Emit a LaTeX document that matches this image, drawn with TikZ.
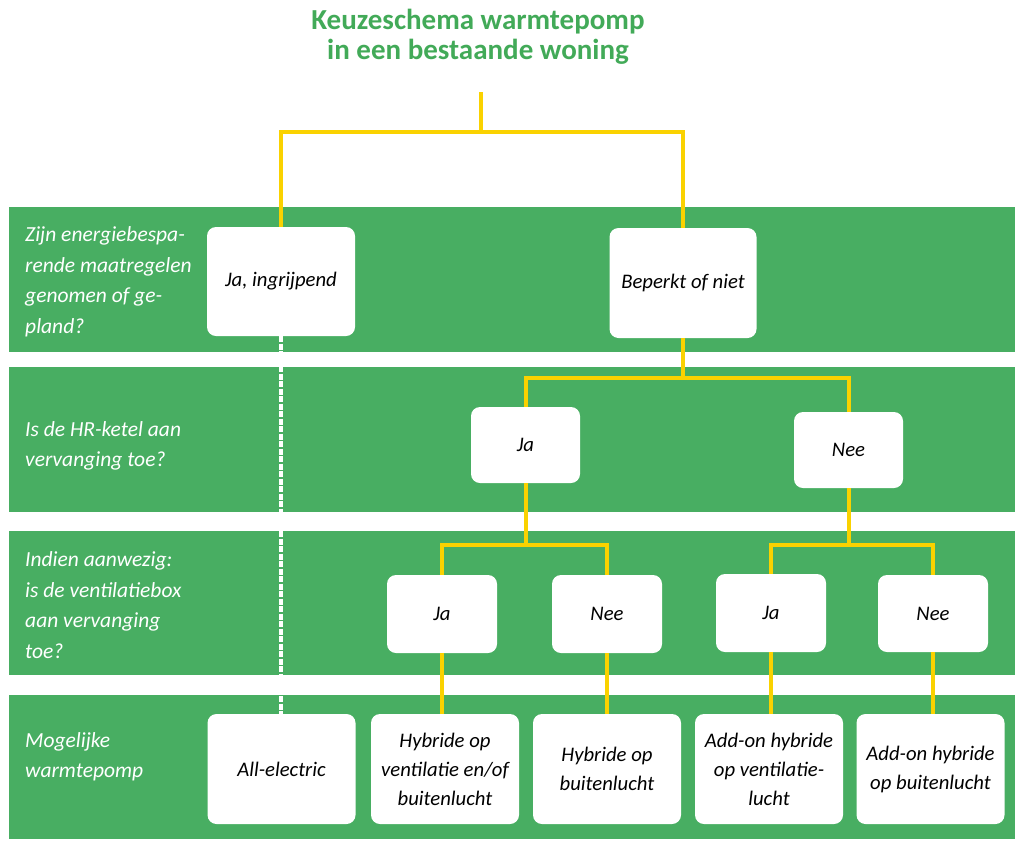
\documentclass[tikz,border=0pt]{standalone}
\usepackage{fontspec}
\setmainfont{Carlito}
\definecolor{bandgreen}{RGB}{72,174,98}
\definecolor{titlegreen}{RGB}{66,170,88}
\definecolor{lineyellow}{RGB}{250,210,0}
\tikzset{
  band/.style={fill=bandgreen, draw=none},
  box/.style={fill=white, draw=none, rounded corners=9pt, inner sep=0pt, align=center,
    font=\itshape\fontsize{20.7}{29}\selectfont, text=black},
  qlabel/.style={anchor=west, align=left, inner sep=0pt, text=white,
    font=\itshape\fontsize{21.5}{30.5}\selectfont},
  conn/.style={draw=lineyellow, line width=4pt},
  dashconn/.style={draw=white, line width=3.5pt, dash pattern=on 6pt off 1.5pt},
}
\begin{document}
\begin{tikzpicture}[x=1pt,y=-1pt]
\useasboundingbox (0,0) rectangle (1024,846);
% bands
\fill[band] (9,207) rectangle (1015,352);
\fill[band] (9,367) rectangle (1015,512);
\fill[band] (9,531) rectangle (1015,675);
\fill[band] (9,695) rectangle (1015,839);
% title
\node[align=center, text=titlegreen, font=\bfseries\fontsize{29}{30.5}\selectfont] (title) at (478,37)
  {Keuzeschema warmtepomp\\in een bestaande woning};
% question labels
\node[qlabel] (q1) at (25,282) {Zijn energiebespa-\\rende maatregelen\\genomen of ge-\\pland?};
\node[qlabel] (q2) at (25,446) {Is de HR-ketel aan\\vervanging toe?};
\node[qlabel] (q3) at (25,605) {Indien aanwezig:\\is de ventilatiebox\\aan vervanging\\toe?};
\node[qlabel] (q4) at (25,757) {Mogelijke\\warmtepomp};
% row 1
\node[box, minimum width=148pt, minimum height=109pt] (ja1) at (281,281.5) {Ja, ingrijpend};
\node[box, minimum width=147pt, minimum height=110pt] (beperkt) at (683,283) {Beperkt of niet};
% row 2
\node[box, minimum width=109pt, minimum height=76pt] (ja2) at (525.5,445) {Ja};
\node[box, minimum width=109pt, minimum height=76pt] (nee2) at (848.5,450) {Nee};
% row 3
\node[box, minimum width=110pt, minimum height=78pt] (ja3a) at (442,614) {Ja};
\node[box, minimum width=110pt, minimum height=78pt] (nee3a) at (607,614) {Nee};
\node[box, minimum width=110pt, minimum height=78pt] (ja3b) at (771,613) {Ja};
\node[box, minimum width=110pt, minimum height=77pt] (nee3b) at (933,613.5) {Nee};
% row 4
\node[box, minimum width=148pt, minimum height=110pt] (allel) at (281.5,769) {All-electric};
\node[box, minimum width=148pt, minimum height=110pt] (hybv) at (445,769) {Hybride op\\ventilatie en/of\\buitenlucht};
\node[box, minimum width=148pt, minimum height=110pt] (hybb) at (607,769) {Hybride op\\buitenlucht};
\node[box, minimum width=148pt, minimum height=110pt] (addv) at (769,769) {Add-on hybride\\op ventilatie-\\lucht};
\node[box, minimum width=148pt, minimum height=110pt] (addb) at (930.5,769) {Add-on hybride\\op buitenlucht};
% junctions
\coordinate (stem) at (481,92);
\coordinate (j0) at (481,132);
\coordinate (j1) at (683,378);
\coordinate (j2) at (525.5,545);
\coordinate (j3) at (848.5,545);
% connectors
\draw[conn] (stem) -- (j0);
\draw[conn] (ja1.north) |- (j0) -| (beperkt.north);
\draw[conn] (beperkt.south) -- (j1);
\draw[conn] (ja2.north) |- (j1) -| (nee2.north);
\draw[conn] (ja2.south) -- (j2);
\draw[conn] (ja3a.north) |- (j2) -| (nee3a.north);
\draw[conn] (nee2.south) -- (j3);
\draw[conn] (ja3b.north) |- (j3) -| (nee3b.north);
\draw[conn] (ja3a.south) -- (ja3a.south |- hybv.north);
\draw[conn] (nee3a.south) -- (nee3a.south |- hybb.north);
\draw[conn] (ja3b.south) -- (ja3b.south |- addv.north);
\draw[conn] (nee3b.south) -- (nee3b.south |- addb.north);
\draw[dashconn] (ja1.south) -- (ja1.south |- allel.north);
\end{tikzpicture}
\end{document}
